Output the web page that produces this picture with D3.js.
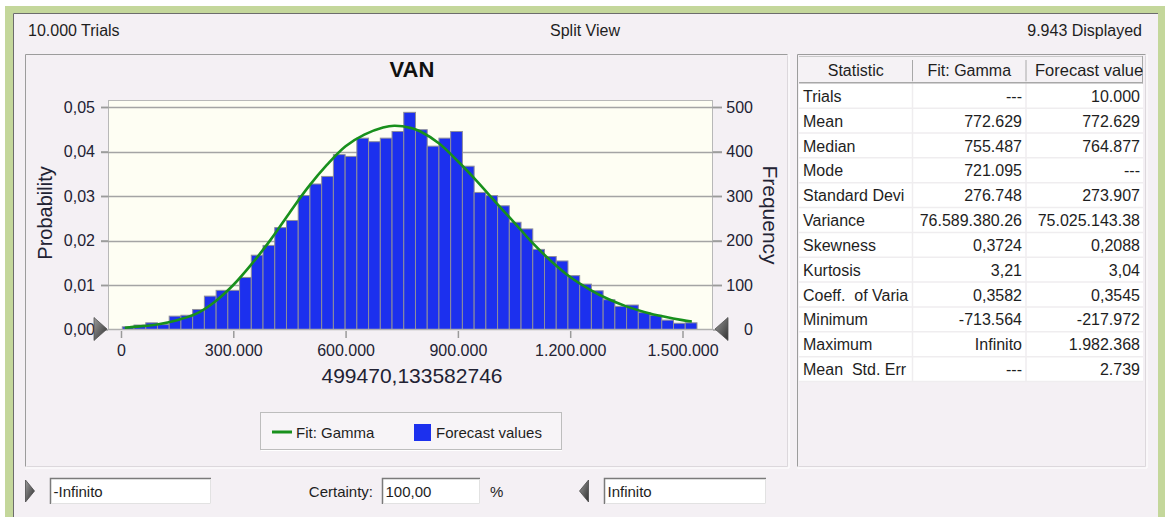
<!DOCTYPE html>
<html>
<head>
<meta charset="utf-8">
<script src="https://cdn.jsdelivr.net/npm/d3@7"></script>
<style>
  html, body { margin: 0; padding: 0; background: #ffffff; }
  svg text { font-family: "Liberation Sans", Arial, sans-serif; fill: #1e1e1e; }
</style>
</head>
<body>
<svg id="chart" width="1165" height="517"></svg>
<script>
// ---- Forecast histogram (counts per bin) ----
const binStart = 3470;       // lower edge of the first bin
const binWidth = 31330;      // width of every bin
const frequency = [6, 10, 15, 11, 30, 32, 45, 75, 88, 88,
                   117, 167, 189, 229, 245, 301, 327, 344, 393, 389,
                   430, 422, 430, 445, 488, 449, 412, 430, 445, 367,
                   308, 301, 278, 241, 226, 180, 164, 154, 121, 102,
                   87, 67, 52, 55, 38, 32, 21, 14, 15];
const totalTrials = 10000;

// ---- Fitted Gamma density, sampled along the x axis ----
const fitX = [10000, 50000, 100000, 150000, 200000, 250000, 300000, 350000, 400000, 450000,
              500000, 550000, 600000, 650000, 700000, 730000, 775000, 800000, 850000, 900000,
              950000, 1000000, 1050000, 1100000, 1150000, 1200000, 1250000, 1300000, 1350000,
              1400000, 1450000, 1500000, 1525000];
const fitProb = [0.0004, 0.0007, 0.0012, 0.0021, 0.0035, 0.0062, 0.0100, 0.0148, 0.0202, 0.0262,
                 0.0320, 0.0370, 0.0412, 0.0438, 0.0454, 0.0458, 0.0453, 0.0445, 0.0418, 0.0378,
                 0.0334, 0.0287, 0.0241, 0.0194, 0.0153, 0.0118, 0.0091, 0.0069, 0.0052,
                 0.0039, 0.0029, 0.0021, 0.0018];

// ---- Axis ticks ----
const xTicks = [0, 300000, 600000, 900000, 1200000, 1500000];
const probTicks = [0, 0.01, 0.02, 0.03, 0.04, 0.05];
const freqTicks = [0, 100, 200, 300, 400, 500];

// ---- Statistics table ----
const statColumns = ["Statistic", "Fit: Gamma", "Forecast value"];
const statNames = ["Trials", "Mean", "Median", "Mode", "Standard Devi", "Variance", "Skewness",
                   "Kurtosis", "Coeff.  of Varia", "Minimum", "Maximum", "Mean  Std. Err"];
const fitValues = ["---", "772.629", "755.487", "721.095", "276.748", "76.589.380.26", "0,3724",
                   "3,21", "0,3582", "-713.564", "Infinito", "---"];
const forecastValues = ["10.000", "772.629", "764.877", "---", "273.907", "75.025.143.38", "0,2088",
                        "3,04", "0,3545", "-217.972", "1.982.368", "2.739"];

const svg = d3.select("#chart");
const defs = svg.append("defs");

const grad = defs.append("linearGradient").attr("id", "tri").attr("x1", 0).attr("y1", 0).attr("x2", 1).attr("y2", 1);
grad.append("stop").attr("offset", "0%").attr("stop-color", "#9a9a9a");
grad.append("stop").attr("offset", "100%").attr("stop-color", "#303030");

defs.append("clipPath").attr("id", "tableClip")
  .append("rect").attr("x", 799).attr("y", 56).attr("width", 344).attr("height", 330);

// Window frame and background
svg.append("rect").attr("width", 1165).attr("height", 517).attr("fill", "#ffffff");
svg.append("rect").attr("x", 5).attr("y", 6).attr("width", 1160).attr("height", 511).attr("fill", "#c4d79b");
svg.append("rect").attr("x", 13).attr("y", 13).attr("width", 1145).attr("height", 504).attr("fill", "#f4f0f4");
svg.append("path").attr("d", "M13.5,517 V13.5 H1158").attr("fill", "none").attr("stroke", "#6c6c6c");

// Header line
svg.append("text").attr("x", 28).attr("y", 36).attr("font-size", 16).text("10.000 Trials");
svg.append("text").attr("x", 585).attr("y", 36).attr("font-size", 16).attr("text-anchor", "middle").text("Split View");
svg.append("text").attr("x", 1142).attr("y", 36).attr("font-size", 16).attr("text-anchor", "end").text("9.943 Displayed");

// Sunken panel borders (chart and table)
function sunken(x0, y0, x1, y1) {
  svg.append("path").attr("d", `M${x0},${y1} V${y0} H${x1}`).attr("fill", "none").attr("stroke", "#9c9c9c");
  svg.append("path").attr("d", `M${x0 + 1},${y1} H${x1} V${y0 + 1}`).attr("fill", "none").attr("stroke", "#dcd8dc");
  svg.append("path").attr("d", `M${x0},${y1 + 1.5} H${x1 + 1.5} V${y0}`).attr("fill", "none").attr("stroke", "#ffffff");
}
sunken(25.5, 54.5, 787.5, 466.5);
sunken(797.5, 54.5, 1145.5, 466.5);

// ---- Plot area ----
const plot = { left: 108, right: 713, top: 100, bottom: 329.5 };
const x = d3.scaleLinear().domain([-34700, 1581500]).range([plot.left, plot.right]);
const yProb = d3.scaleLinear().domain([0, 0.05]).range([plot.bottom, 107]);
const yFreq = d3.scaleLinear().domain([0, 0.05 * totalTrials]).range([plot.bottom, 107]);

svg.append("text").attr("x", 412).attr("y", 77).attr("font-size", 22).attr("font-weight", "bold")
  .attr("text-anchor", "middle").style("fill", "#101010").text("VAN");

svg.append("rect").attr("x", plot.left + 0.5).attr("y", plot.top + 0.5)
  .attr("width", plot.right - plot.left - 1).attr("height", plot.bottom - plot.top - 0.5)
  .attr("fill", "#fefef3").attr("stroke", "#b8b8b8");

// Horizontal grid lines, running through the ticks on both sides
svg.append("g").selectAll("line").data(probTicks.filter(d => d > 0)).join("line")
  .attr("x1", 101).attr("x2", 722)
  .attr("y1", d => Math.round(yProb(d)) + 0.5).attr("y2", d => Math.round(yProb(d)) + 0.5)
  .attr("stroke", "#a4a4a4").attr("stroke-width", 1.6);

// Histogram bars
svg.append("g").selectAll("rect").data(frequency).join("rect")
  .attr("x", (d, i) => x(binStart + i * binWidth))
  .attr("width", (d, i) => x(binStart + (i + 1) * binWidth) - x(binStart + i * binWidth))
  .attr("y", d => yFreq(d))
  .attr("height", d => plot.bottom - yFreq(d))
  .attr("fill", "#1c30ee").attr("stroke", "#8e8e9a").attr("stroke-width", 1);

// Baseline
svg.append("line").attr("x1", plot.left).attr("x2", plot.right)
  .attr("y1", plot.bottom).attr("y2", plot.bottom).attr("stroke", "#b0b0b0").attr("stroke-width", 1.5);

// Gamma fit line
const fitLine = d3.line().x((d, i) => x(fitX[i])).y(d => yProb(d)).curve(d3.curveCatmullRom.alpha(0.5));
svg.append("path").datum(fitProb).attr("d", fitLine)
  .attr("fill", "none").attr("stroke", "#18901c").attr("stroke-width", 2.6);

// Axes
const locale = d3.formatLocale({ decimal: ",", thousands: ".", grouping: [3], currency: ["", ""] });
const fmtThousands = locale.format(",.0f");
const fmtProb = locale.format(".2f");

function styleAxis(g, size) {
  g.select(".domain").remove();
  g.selectAll(".tick line").attr("stroke", "#9a9a9a").attr("stroke-width", 1.5);
  g.selectAll(".tick text").attr("font-size", size).style("fill", "#222233")
    .attr("font-family", "'Liberation Sans', Arial, sans-serif");
}

svg.append("g").attr("transform", `translate(${plot.left},0)`)
  .call(d3.axisLeft(yProb).tickValues(probTicks).tickSize(7).tickPadding(6).tickFormat(fmtProb))
  .call(g => styleAxis(g, 16));

// Right axis: labels are right-aligned in a column beside the ticks
svg.append("g").attr("transform", `translate(${plot.right},0)`)
  .call(d3.axisRight(yFreq).tickValues(freqTicks).tickSize(9).tickPadding(31).tickFormat(d3.format("d")))
  .call(g => styleAxis(g, 16))
  .call(g => g.selectAll(".tick text").attr("text-anchor", "end"));

svg.append("g").attr("transform", `translate(0,${plot.bottom + 1.5})`)
  .call(d3.axisBottom(x).tickValues(xTicks).tickSize(7).tickPadding(7).tickFormat(fmtThousands))
  .call(g => styleAxis(g, 16));

// Axis titles
svg.append("text").attr("transform", "translate(52,213) rotate(-90)")
  .attr("font-size", 20).attr("text-anchor", "middle").style("fill", "#222233").text("Probability");
svg.append("text").attr("transform", "translate(763,215) rotate(90)")
  .attr("font-size", 21).attr("text-anchor", "middle").style("fill", "#222233").text("Frequency");
svg.append("text").attr("x", 412).attr("y", 383).attr("font-size", 21)
  .attr("text-anchor", "middle").style("fill", "#222233").text("499470,133582746");

// Grab handles at both ends of the axis
function triangle(cx, cy, dir) {
  const w = 13, h = 23;
  const p = dir > 0
    ? [[cx - w / 2, cy - h / 2], [cx + w / 2, cy], [cx - w / 2, cy + h / 2]]
    : [[cx + w / 2, cy - h / 2], [cx - w / 2, cy], [cx + w / 2, cy + h / 2]];
  svg.append("path").attr("d", "M" + p.map(q => q.join(",")).join("L") + "Z")
    .attr("fill", "url(#tri)").attr("stroke", "#505050").attr("stroke-width", 0.8);
}
triangle(100.5, 329, 1);
triangle(721.5, 329, -1);

// Legend
svg.append("rect").attr("x", 260.5).attr("y", 412.5).attr("width", 301).attr("height", 37)
  .attr("fill", "#f7f4f7").attr("stroke", "#bdbdbd");
svg.append("line").attr("x1", 261).attr("x2", 562).attr("y1", 450.5).attr("y2", 450.5).attr("stroke", "#ffffff");
svg.append("line").attr("x1", 272).attr("x2", 292).attr("y1", 432).attr("y2", 432)
  .attr("stroke", "#18901c").attr("stroke-width", 3);
svg.append("text").attr("x", 296).attr("y", 437.5).attr("font-size", 15).text("Fit: Gamma");
svg.append("rect").attr("x", 414).attr("y", 424).attr("width", 17).attr("height", 17).attr("fill", "#1c30ee");
svg.append("text").attr("x", 436).attr("y", 437.5).attr("font-size", 15).text("Forecast values");

// ---- Statistics table ----
const tbl = { left: 799, right: 1143, top: 56, head: 83.3, row: 24.85 };
const colX = [799, 912.5, 1026, 1143];
const tg = svg.append("g").attr("clip-path", "url(#tableClip)");
tg.append("rect").attr("x", tbl.left).attr("y", tbl.top).attr("width", tbl.right - tbl.left)
  .attr("height", tbl.head - tbl.top).attr("fill", "#f5f2f5");
tg.append("rect").attr("x", tbl.left).attr("y", tbl.head).attr("width", tbl.right - tbl.left)
  .attr("height", statNames.length * tbl.row).attr("fill", "#ffffff");
// row separators
tg.append("g").selectAll("line").data(statNames).join("line")
  .attr("x1", tbl.left).attr("x2", tbl.right)
  .attr("y1", (d, i) => tbl.head + (i + 1) * tbl.row).attr("y2", (d, i) => tbl.head + (i + 1) * tbl.row)
  .attr("stroke", "#efedef").attr("stroke-width", 1.5);
// column separators in the body
tg.append("g").selectAll("line").data([colX[1], colX[2]]).join("line")
  .attr("x1", d => d).attr("x2", d => d).attr("y1", tbl.head).attr("y2", tbl.head + statNames.length * tbl.row)
  .attr("stroke", "#efedef").attr("stroke-width", 1.5);
// header separators
tg.append("g").selectAll("line").data([colX[1], colX[2]]).join("line")
  .attr("x1", d => d).attr("x2", d => d).attr("y1", tbl.top + 4).attr("y2", tbl.head - 2)
  .attr("stroke", "#a8a8a8").attr("stroke-width", 1);
tg.append("line").attr("x1", tbl.left).attr("x2", tbl.right).attr("y1", tbl.head - 0.5).attr("y2", tbl.head - 0.5)
  .attr("stroke", "#a8a8a8").attr("stroke-width", 1.5);
tg.append("line").attr("x1", tbl.left).attr("x2", tbl.right).attr("y1", tbl.top + 0.5).attr("y2", tbl.top + 0.5)
  .attr("stroke", "#c8c8c8");
tg.append("line").attr("x1", tbl.right - 0.5).attr("x2", tbl.right - 0.5).attr("y1", tbl.top).attr("y2", tbl.head)
  .attr("stroke", "#a8a8a8");

tg.append("text").attr("x", (colX[0] + colX[1]) / 2).attr("y", 76).attr("font-size", 16)
  .attr("text-anchor", "middle").text(statColumns[0]);
tg.append("text").attr("x", (colX[1] + colX[2]) / 2).attr("y", 76).attr("font-size", 16)
  .attr("text-anchor", "middle").text(statColumns[1]);
tg.append("text").attr("x", 1035).attr("y", 76).attr("font-size", 16.5).text(statColumns[2]);

const rows = tg.append("g").selectAll("g").data(statNames).join("g")
  .attr("transform", (d, i) => `translate(0,${tbl.head + i * tbl.row + 18.5})`);
rows.append("text").attr("x", 803).attr("font-size", 16).text(d => d).style("white-space", "pre");
rows.append("text").attr("x", 1022).attr("font-size", 16).attr("text-anchor", "end").text((d, i) => fitValues[i]);
rows.append("text").attr("x", 1140).attr("font-size", 16).attr("text-anchor", "end").text((d, i) => forecastValues[i]);

// ---- Certainty controls ----
function textBox(x0, x1, label) {
  svg.append("rect").attr("x", x0).attr("y", 478).attr("width", x1 - x0).attr("height", 26).attr("fill", "#ffffff");
  svg.append("path").attr("d", `M${x0 + 0.5},504 V478.5 H${x1}`).attr("fill", "none").attr("stroke", "#7a7a7a").attr("stroke-width", 1.5);
  svg.append("path").attr("d", `M${x0 + 1},503.5 H${x1 - 0.5} V479`).attr("fill", "none").attr("stroke", "#e2e2e2");
  svg.append("text").attr("x", x0 + 3.5).attr("y", 497).attr("font-size", 15).text(label);
}
function handle(cx, dir) {
  const w = 9, h = 22, cy = 491;
  const p = dir > 0
    ? [[cx - w / 2, cy - h / 2], [cx + w / 2, cy], [cx - w / 2, cy + h / 2]]
    : [[cx + w / 2, cy - h / 2], [cx - w / 2, cy], [cx + w / 2, cy + h / 2]];
  svg.append("path").attr("d", "M" + p.map(q => q.join(",")).join("L") + "Z")
    .attr("fill", "url(#tri)").attr("stroke", "#4a4a4a").attr("stroke-width", 0.8);
}
handle(30, 1);
textBox(50, 211, "-Infinito");
svg.append("text").attr("x", 373).attr("y", 497).attr("font-size", 15).attr("text-anchor", "end").text("Certainty:");
textBox(382, 480, "100,00");
svg.append("text").attr("x", 490).attr("y", 497).attr("font-size", 15).text("%");
handle(584, -1);
textBox(604, 766, "Infinito");
</script>
</body>
</html>
